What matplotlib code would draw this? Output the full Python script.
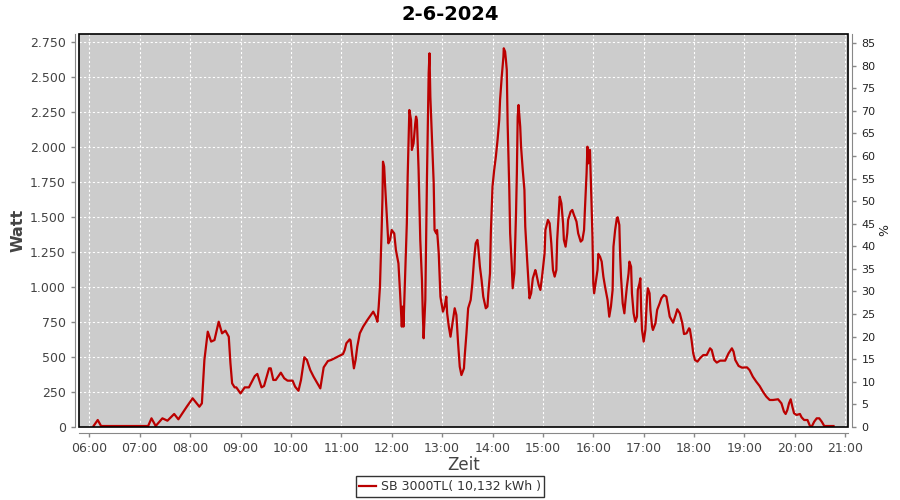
import matplotlib
matplotlib.use("Agg")
import matplotlib.pyplot as plt
from matplotlib.ticker import FixedLocator, FuncFormatter
from matplotlib.patches import Rectangle

# time in minutes since midnight, power in Watt
minutes = [365, 370, 374, 430, 434, 439, 447, 453, 461, 466, 476, 483, 491, 494, 497, 501, 505, 509,
           514, 518, 522, 526, 528, 530, 533, 535, 540, 545, 550, 557, 560, 565, 568, 574, 576, 579,
           582, 588, 592, 596, 602, 605, 609, 612, 616, 619, 623, 627, 635, 639, 644, 648, 652, 662,
           664, 666, 670, 671, 673, 675, 677, 679, 682, 686, 691, 696, 698, 701, 703, 704.5, 706, 707,
           708, 709, 709.6, 711, 712, 714, 716, 718, 720, 723, 725, 728, 730, 732, 733, 734, 736, 738,
           739, 741, 743, 744, 746, 748, 749, 750, 752, 754, 756, 757, 758, 760, 761, 762, 764, 765,
           766, 768, 770, 771, 773, 774, 776, 778, 781, 783, 785, 786, 788, 790, 793, 795, 797, 799,
           801, 803, 806, 807, 809, 811, 814, 816, 818, 820, 822, 823, 825, 827, 829, 832, 834, 835,
           837, 838, 840, 842, 844, 846, 848, 849, 851, 853, 853.4, 855, 856, 857, 858, 860, 861, 863,
           864, 866, 868, 869, 870, 871, 873, 874, 876, 878, 879, 881, 883, 884, 886, 888, 891, 892,
           895, 897, 899, 902, 903, 906, 908, 910, 912, 914, 916, 917, 919, 920, 922, 924, 925, 927,
           929, 930, 933, 935, 937, 940, 942, 945, 947, 949, 950, 952, 953, 954, 956, 957, 958, 959,
           960, 961, 963, 965, 966, 968, 970, 972, 974, 977, 979, 981, 983, 984, 986, 988, 989, 991,
           992, 993, 995, 997, 998, 1000, 1002, 1003, 1005, 1006, 1008, 1010, 1012, 1013, 1015, 1016,
           1017, 1018, 1020, 1022, 1024, 1025, 1027, 1028, 1030, 1031, 1034, 1036, 1039, 1041, 1044,
           1047, 1049, 1051, 1055, 1058, 1060, 1063, 1066, 1068, 1071, 1074, 1075, 1077, 1079, 1081,
           1084, 1087, 1091, 1095, 1099, 1101, 1104, 1107, 1111, 1117, 1121, 1125, 1127, 1129, 1133,
           1137, 1143, 1146, 1150, 1154, 1158, 1162, 1166, 1170, 1174, 1180, 1184, 1187, 1189, 1191,
           1193, 1195, 1197, 1199, 1202, 1206, 1208, 1211, 1215, 1218, 1220, 1223, 1226, 1229, 1232,
           1235, 1246]
watt = [7, 50, 7, 7, 62, 7, 62, 45, 93, 55, 145, 205, 145, 169, 479, 681, 610, 621,
        752, 669, 688, 645, 455, 312, 283, 283, 240, 283, 283, 364, 379, 283, 293, 419, 419, 336,
        336, 388, 348, 331, 331, 288, 259, 336, 498, 479, 407, 359, 276, 426, 471, 479, 491, 521,
        550, 598, 626, 619, 514, 419, 479, 574, 669, 717, 764, 807, 824, 788, 752, 860, 1002, 1193,
        1407, 1633, 1895, 1860, 1740, 1526, 1312, 1336, 1407, 1383, 1264, 1169, 955, 717, 860, 717, 1098, 1455,
        1788, 2264, 2193, 1979, 2026, 2167, 2217, 2193, 1836, 1336, 1050, 812, 634, 907, 1360, 1788, 2526, 2669,
        2360, 2050, 1740, 1407, 1383, 1407, 1240, 931, 824, 860, 931, 812, 717, 645, 764, 848, 800, 600,
        431, 371, 419, 514, 669, 848, 907, 1026, 1193, 1312, 1336, 1288, 1145, 1050, 931, 848, 860, 955,
        1098, 1383, 1717, 1836, 1931, 2050, 2193, 2336, 2502, 2645, 2705, 2681, 2621, 2550, 2169, 1693, 1383, 1145,
        991, 1098, 1526, 1812, 2217, 2300, 2145, 2002, 1836, 1693, 1431, 1217, 1026, 919, 955, 1062, 1121, 1098,
        1014, 979, 1074, 1240, 1407, 1479, 1455, 1312, 1121, 1074, 1121, 1336, 1550, 1645, 1598, 1455, 1336, 1288,
        1383, 1479, 1538, 1550, 1514, 1467, 1383, 1324, 1336, 1407, 1550, 1812, 2002, 1883, 1979, 1788, 1574, 1360,
        1026, 955, 1038, 1121, 1236, 1217, 1181, 1074, 1002, 907, 788, 860, 979, 1288, 1407, 1490, 1498, 1443,
        1217, 1074, 883, 812, 883, 1002, 1098, 1181, 1145, 955, 812, 752, 788, 979, 1026, 1062,
        836, 693, 610, 693, 931, 991, 955, 836, 717, 693, 741, 836, 883, 919, 943,
        931, 860, 788, 745, 800, 841, 812, 741, 664, 669, 705, 698, 621, 526, 479,
        467, 491, 514, 514, 562, 550, 479, 460, 474, 474, 526, 562, 538, 479, 436,
        424, 426, 407, 359, 324, 293, 252, 217, 193, 193, 198, 169, 110, 93, 121,
        169, 198, 145, 98, 86, 93, 69, 50, 50, 7, 2, 38, 62, 62, 38,
        7, 7]

title = "2-6-2024"
series_label = "SB 3000TL( 10,132 kWh )"
x_label = "Zeit"
y_label = "Watt"
y2_label = "%"
x_hours = list(range(6, 22))
y_ticks = list(range(0, 2751, 250))
y2_ticks = list(range(0, 86, 5))

hours = [m / 60.0 for m in minutes]

fig = plt.figure(figsize=(9, 5), dpi=100)
ax = fig.add_axes([79 / 900, 73 / 500, (848.3 - 79) / 900, 393 / 500])
ax.set_facecolor("#cccccc")

ax.set_xlim(347.7 / 60, 1263.6 / 60)
ax.set_ylim(0, 2807)

ax.xaxis.set_major_locator(FixedLocator(x_hours))
ax.xaxis.set_major_formatter(FuncFormatter(lambda v, p: "%02d:00" % int(round(v))))
ax.yaxis.set_major_locator(FixedLocator(y_ticks))
ax.yaxis.set_major_formatter(FuncFormatter(lambda v, p: ("{:,}".format(int(v))).replace(",", ".")))

ax.grid(True, color="white", linestyle=(0, (2, 2)), linewidth=0.8)
ax.set_axisbelow(True)

ax.plot(hours, watt, color="#bb0000", linewidth=1.6, label=series_label, zorder=3)

gray = "#888888"
for s in ["top", "right"]:
    ax.spines[s].set_visible(False)
ax.spines["left"].set_position(("outward", 3))
ax.spines["bottom"].set_position(("outward", 4))
ax.spines["left"].set_color(gray)
ax.spines["bottom"].set_color(gray)
ax.tick_params(axis="both", colors=gray, length=3, width=1, labelcolor="#444444", labelsize=9)

border = Rectangle((0, 0), 1, 1, transform=ax.transAxes, fill=False, edgecolor="black",
                   linewidth=1.2, zorder=5, clip_on=False)
ax.add_patch(border)

ax2 = ax.twinx()
ax2.set_ylim(0, 87.0)
ax2.yaxis.set_major_locator(FixedLocator(y2_ticks))
for s in ["top", "left", "bottom"]:
    ax2.spines[s].set_visible(False)
ax2.spines["right"].set_position(("outward", 3))
ax2.spines["right"].set_color(gray)
ax2.tick_params(axis="y", colors=gray, length=3, width=1, labelcolor="#222222", labelsize=8)
ax2.set_ylabel(y2_label, fontsize=9, color="#222222", labelpad=2)

ax.set_xlabel(x_label, fontsize=12, color="#444444", labelpad=1)
ax.set_ylabel(y_label, fontsize=11.5, color="#444444", fontweight="bold", labelpad=3)

fig.text(0.5, 0.99, title, ha="center", va="top", fontsize=14, fontweight="bold", color="black")

leg = fig.legend(handles=ax.get_lines(), loc="center", bbox_to_anchor=(0.5, 0.027),
                 frameon=True, fancybox=False, fontsize=9, handlelength=1.3, handletextpad=0.4,
                 borderpad=0.3, borderaxespad=0)
leg.get_frame().set_edgecolor("black")
leg.get_frame().set_linewidth(1.0)
for t in leg.get_texts():
    t.set_color("#333333")

fig.savefig("out.png", dpi=100)
